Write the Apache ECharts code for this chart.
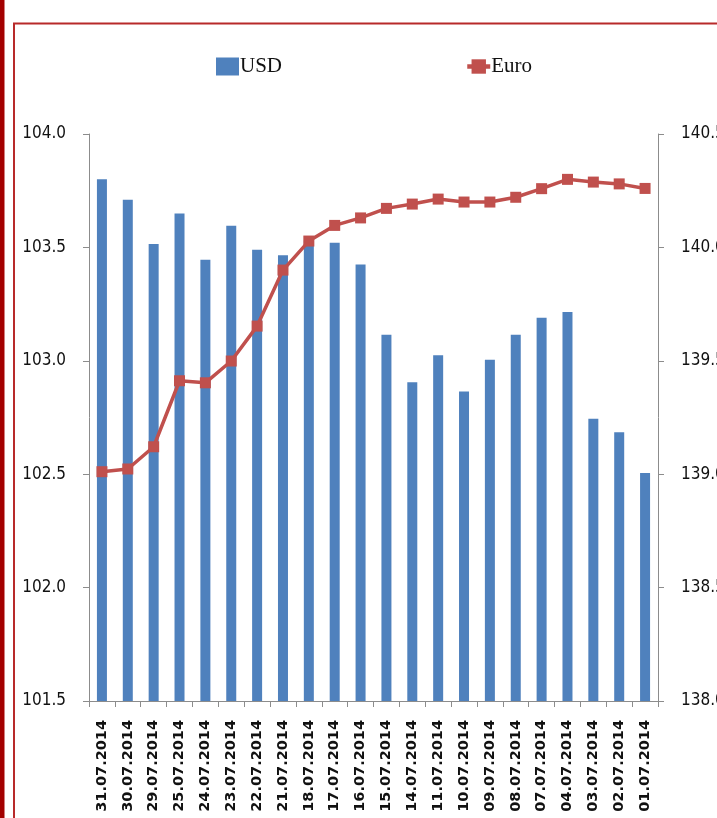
<!DOCTYPE html>
<html>
<head>
<meta charset="utf-8">
<script src="https://cdn.jsdelivr.net/npm/echarts@6/dist/echarts.min.js"></script>
<style>
html,body{margin:0;padding:0;background:#fff;overflow:hidden;width:717px;height:818px;}
#chart{width:717px;height:818px;}
</style>
</head>
<body>
<div id="chart"></div>
<script>
var categories = ['31.07.2014','30.07.2014','29.07.2014','25.07.2014','24.07.2014','23.07.2014','22.07.2014','21.07.2014','18.07.2014','17.07.2014','16.07.2014','15.07.2014','14.07.2014','11.07.2014','10.07.2014','09.07.2014','08.07.2014','07.07.2014','04.07.2014','03.07.2014','02.07.2014','01.07.2014'];
var usdValues = [103.80,103.71,103.515,103.65,103.445,103.595,103.49,103.465,103.53,103.52,103.425,103.115,102.905,103.025,102.865,103.005,103.115,103.19,103.215,102.745,102.685,102.505];
var euroValues = [139.011,139.023,139.121,139.412,139.403,139.499,139.653,139.90,140.028,140.097,140.13,140.172,140.191,140.213,140.20,140.20,140.221,140.259,140.30,140.288,140.28,140.26];
var leftTicks = {min:101.5, max:104.0, interval:0.5};
var rightTicks = {min:138.0, max:140.5, interval:0.5};

var chart = echarts.init(document.getElementById('chart'), null, {renderer:'canvas', width:717, height:818});
var axisGray = '#8c8c8c';
var yLabel = {fontFamily:"'DejaVu Sans Condensed', 'Liberation Sans', sans-serif", fontSize:17, color:'#111', formatter:function(v){return v.toFixed(1);}};
var legendText = {fontFamily:'Liberation Serif', fontSize:21, color:'#111', padding:[0,0,0,-4]};
chart.setOption({
  animation:false,
  backgroundColor:'#ffffff',
  graphic:[
    {type:'rect', shape:{x:0,y:0,width:4.5,height:818}, style:{fill:'#a30000'}},
    {type:'polyline', shape:{points:[[14,818],[14,23.5],[717,23.5]]}, style:{stroke:'#b82a2a', lineWidth:2, fill:null}}
  ],
  legend:[
    {data:[{name:'USD', icon:'rect'}], left:216, top:56, padding:0, itemWidth:23, itemHeight:18, itemGap:0, textStyle:legendText},
    {data:['Euro'], left:465, top:56, padding:0, itemWidth:23, itemHeight:18, itemGap:0, textStyle:legendText,
     lineStyle:{width:4.5}}
  ],
  grid:{left:89, right:59, top:134, bottom:117, containLabel:false, outerBoundsMode:'none'},
  xAxis:{
    type:'category', data:categories, boundaryGap:true,
    axisLine:{lineStyle:{color:axisGray, width:1}},
    axisTick:{show:true, alignWithLabel:false, length:6, lineStyle:{color:axisGray}},
    axisLabel:{interval:0, rotate:90, margin:19, fontFamily:'DejaVu Sans', fontWeight:'bold', fontSize:14.5, color:'#111'}
  },
  yAxis:[
    {type:'value', position:'left', min:leftTicks.min, max:leftTicks.max, interval:leftTicks.interval,
     axisLine:{show:true, lineStyle:{color:axisGray}},
     axisTick:{show:true, length:6, lineStyle:{color:axisGray}},
     splitLine:{show:false},
     axisLabel:Object.assign({margin:23}, yLabel)},
    {type:'value', position:'right', min:rightTicks.min, max:rightTicks.max, interval:rightTicks.interval,
     axisLine:{show:true, lineStyle:{color:axisGray}},
     axisTick:{show:true, length:6, lineStyle:{color:axisGray}},
     splitLine:{show:false},
     axisLabel:Object.assign({margin:23}, yLabel)}
  ],
  series:[
    {name:'USD', type:'bar', yAxisIndex:0, data:usdValues, barWidth:10,
     itemStyle:{color:'#4f81bd'}},
    {name:'Euro', type:'line', yAxisIndex:1, data:euroValues,
     symbol:'rect', symbolSize:11, showSymbol:true,
     lineStyle:{color:'#c0504d', width:3.5},
     itemStyle:{color:'#c0504d'}}
  ]
});
</script>
</body>
</html>
